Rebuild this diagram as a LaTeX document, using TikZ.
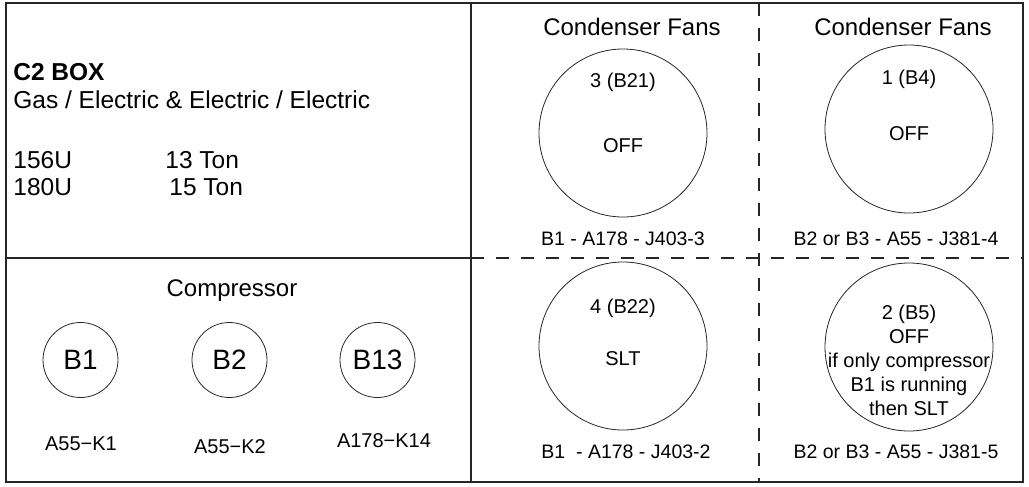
\documentclass[tikz,border=0pt]{standalone}
\usepackage{fontspec}
\setmainfont{Liberation Sans}
\usetikzlibrary{positioning}

\begin{document}
\begin{tikzpicture}[
  x=0.5pt, y=-0.5pt,
  font=\fontsize{12}{14}\selectfont,
  frame/.style={draw=black!85, line width=0.55pt},
  divider/.style={frame, dash pattern=on 6.5pt off 6pt},
  fan/.style={circle, draw=black!85, line width=0.4pt, minimum size=84pt, inner sep=0pt},
  comp/.style={circle, draw=black!85, line width=0.4pt, minimum size=37.5pt,
    inner sep=0pt, font=\fontsize{14}{16}\selectfont},
  unittext/.style={anchor=base west, inner sep=0pt, font=\fontsize{12.25}{14}\selectfont},
  fantext/.style={anchor=base, font=\fontsize{10}{12}\selectfont},
  pinlabel/.style={anchor=base, font=\fontsize{9.75}{12}\selectfont},
  complabel/.style={anchor=base, font=\fontsize{10}{12}\selectfont},
]
\useasboundingbox (0,0) rectangle (1029,487);

% panels
\draw[frame] (6,3) rectangle (1023,482);
\draw[frame] (471,3) -- (471,482);
\draw[frame] (6,258) -- (471,258);
\draw[divider] (471,258) -- (1023,258);
\draw[divider] (759,3) -- (759,482);

% unit data
\node[unittext, font=\fontsize{12.25}{14}\selectfont\bfseries] (title) at (13,80) {C2 BOX};
\node[unittext] (kind) at (13,108) {Gas / Electric \& Electric / Electric};
\node[unittext] (m156) at (13,168) {156U};
\node[unittext] (t13)  at (165,168) {13 Ton};
\node[unittext] (m180) at (13,195) {180U};
\node[unittext] (t15)  at (169,195) {15 Ton};

% compressors
\node[anchor=base] (comphead) at (232,296) {Compressor};
\node[comp] (b1)  at (80.5,360)  {B1};
\node[comp] (b2)  at (229.5,360) {B2};
\node[comp] (b13) at (377.5,360) {B13};
\node[complabel] (k1)  at (81,450)  {A55−K1};
\node[complabel] (k2)  at (230,453) {A55−K2};
\node[complabel] (k14) at (384,447) {A178−K14};

% condenser fans
\node[anchor=base] (headl) at (632,35) {Condenser Fans};
\node[anchor=base] (headr) at (903,35) {Condenser Fans};

\node[fan] (fan3) at (623,133) {};
\node[fantext] at (623,87)  {3 (B21)};
\node[fantext] at (623,152) {OFF};
\node[pinlabel] (pin3) at (623,245) {B1 - A178 - J403-3};

\node[fan] (fan1) at (909,129) {};
\node[fantext] at (909,84)  {1 (B4)};
\node[fantext] at (909,140) {OFF};
\node[pinlabel] (pin1) at (896,245) {B2 or B3 - A55 - J381-4};

\node[fan] (fan4) at (623,346) {};
\node[fantext] at (623,313) {4 (B22)};
\node[fantext] at (623,365) {SLT};
\node[pinlabel] (pin4) at (626,458) {B1 \ - A178 - J403-2};

\node[fan] (fan2) at (909,347) {};
\node[font=\fontsize{10}{12}\selectfont, align=center, inner sep=0pt] at (909,360)
  {2 (B5)\\OFF\\if only compressor\\B1 is running\\then SLT};
\node[pinlabel] (pin2) at (896,458) {B2 or B3 - A55 - J381-5};
\end{tikzpicture}
\end{document}
